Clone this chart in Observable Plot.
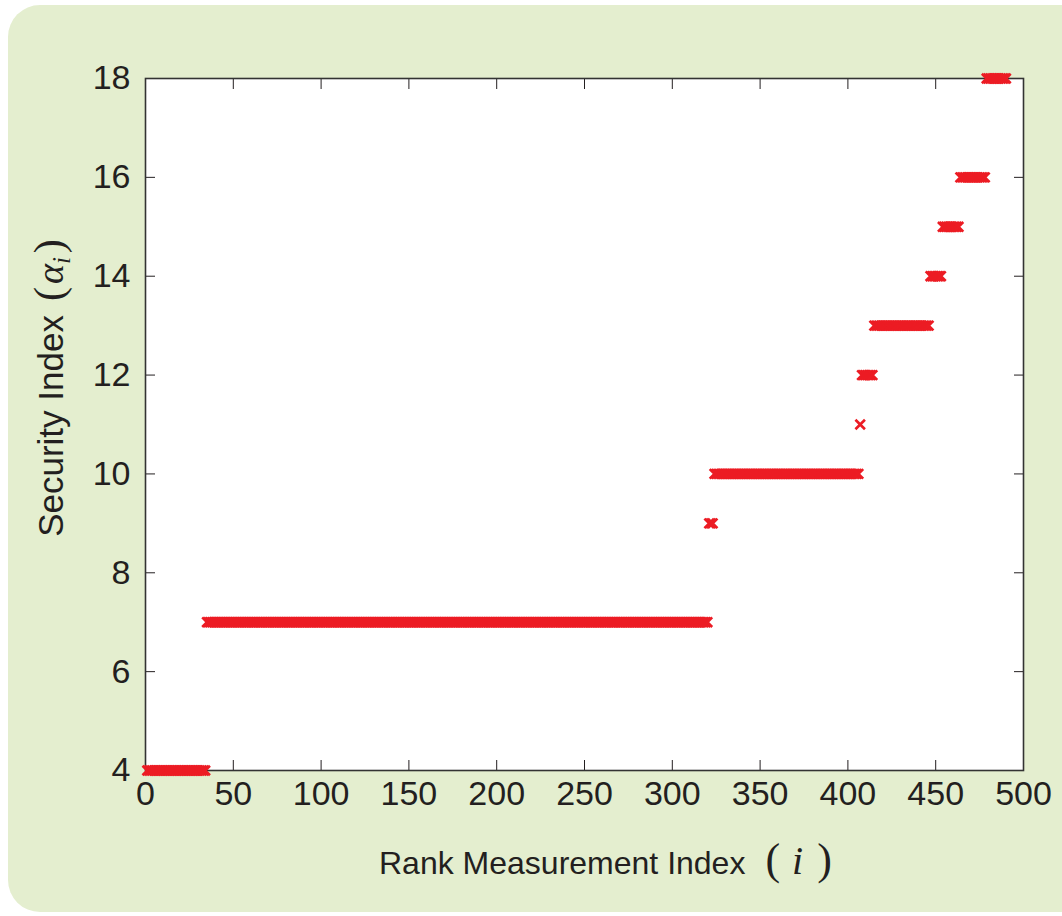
<!DOCTYPE html>
<html><head><meta charset="utf-8">
<script src="https://cdn.jsdelivr.net/npm/d3@7"></script>
<script src="https://cdn.jsdelivr.net/npm/@observablehq/plot@0.6"></script>
<style>
html,body{margin:0;padding:0;background:#fff;}
#panel{position:absolute;left:8px;top:5px;width:1100px;height:907px;background:#e4eecf;border-radius:32px;}
#chart{position:absolute;left:0;top:0;}
</style></head><body>
<div id="panel"></div><div id="chart"></div>
<script>
// Security index per rank-measurement index, stored as runs
const runValues = [4, 7, 9, 10, 11, 12, 13, 14, 15, 16, 18];
const runStarts = [1, 35, 321, 324, 407, 408, 415, 447, 454, 464, 479];
const runEnds   = [34, 320, 323, 406, 407, 414, 446, 453, 463, 478, 490];
const xTicks = [0, 50, 100, 150, 200, 250, 300, 350, 400, 450, 500];
const yTicks = [4, 6, 8, 10, 12, 14, 16, 18];

const points = [];
runValues.forEach((v, k) => {
  for (let i = runStarts[k]; i <= runEnds[k]; i++) points.push({i, alpha: v});
});

const font = "'Liberation Sans', Arial, Helvetica, sans-serif";
const chart = Plot.plot({
  width: 1062, height: 916,
  marginLeft: 145, marginRight: 39, marginTop: 78, marginBottom: 146,
  style: {background: "transparent", fontFamily: font, fontSize: "34px", color: "#231f20", overflow: "visible"},
  x: {domain: [0, 500], ticks: xTicks, label: null},
  y: {domain: [4, 18], ticks: yTicks, label: null},
  marks: [
    Plot.frame({fill: "white", stroke: "none"}),
    Plot.axisX(xTicks, {anchor: "bottom", tickSize: -10, tickPadding: 20, label: null, fontSize: 34}),
    Plot.axisX(xTicks, {anchor: "top", tickSize: -10, tickFormat: () => "", label: null}),
    Plot.axisY(yTicks, {anchor: "left", tickSize: -10, tickPadding: 25, label: null, fontSize: 34}),
    Plot.axisY(yTicks, {anchor: "right", tickSize: -10, tickFormat: () => "", label: null}),
    Plot.frame({stroke: "#333", strokeWidth: 1.6}),
    Plot.dot(points, {x: "i", y: "alpha", symbol: "times", r: 4.4, stroke: "#ec1c24", strokeWidth: 2.6})
  ]
});
document.getElementById("chart").appendChild(chart);

const svg = d3.select(chart);
const serif = "'Liberation Serif', 'DejaVu Serif', serif";
const xl = svg.append("text").attr("x", 379).attr("y", 874).attr("text-anchor", "start")
  .attr("font-size", 32).attr("fill", "#231f20").attr("font-family", font);
xl.append("tspan").text("Rank Measurement Index");
xl.append("tspan").attr("dx", 20).attr("font-family", serif).attr("font-size", 44).text("(");
xl.append("tspan").attr("dx", 12).attr("font-family", serif).attr("font-size", 40).attr("font-style", "italic").text("i");
xl.append("tspan").attr("dx", 14).attr("font-family", serif).attr("font-size", 44).text(")");

const yl = svg.append("text").attr("transform", "translate(63,388) rotate(-90)")
  .attr("text-anchor", "middle")
  .attr("font-size", 35).attr("fill", "#231f20").attr("font-family", font);
yl.append("tspan").text("Security Index");
yl.append("tspan").attr("dx", 14).attr("font-family", serif).attr("font-size", 42).text("(");
yl.append("tspan").attr("dx", 3).attr("font-family", serif).attr("font-size", 38).attr("font-style", "italic").text("α");
yl.append("tspan").attr("font-family", serif).attr("font-style", "italic").attr("font-size", 25).attr("dy", 7).text("i");
yl.append("tspan").attr("dx", 4).attr("font-family", serif).attr("font-size", 42).attr("dy", -7).text(")");
</script>
</body></html>
